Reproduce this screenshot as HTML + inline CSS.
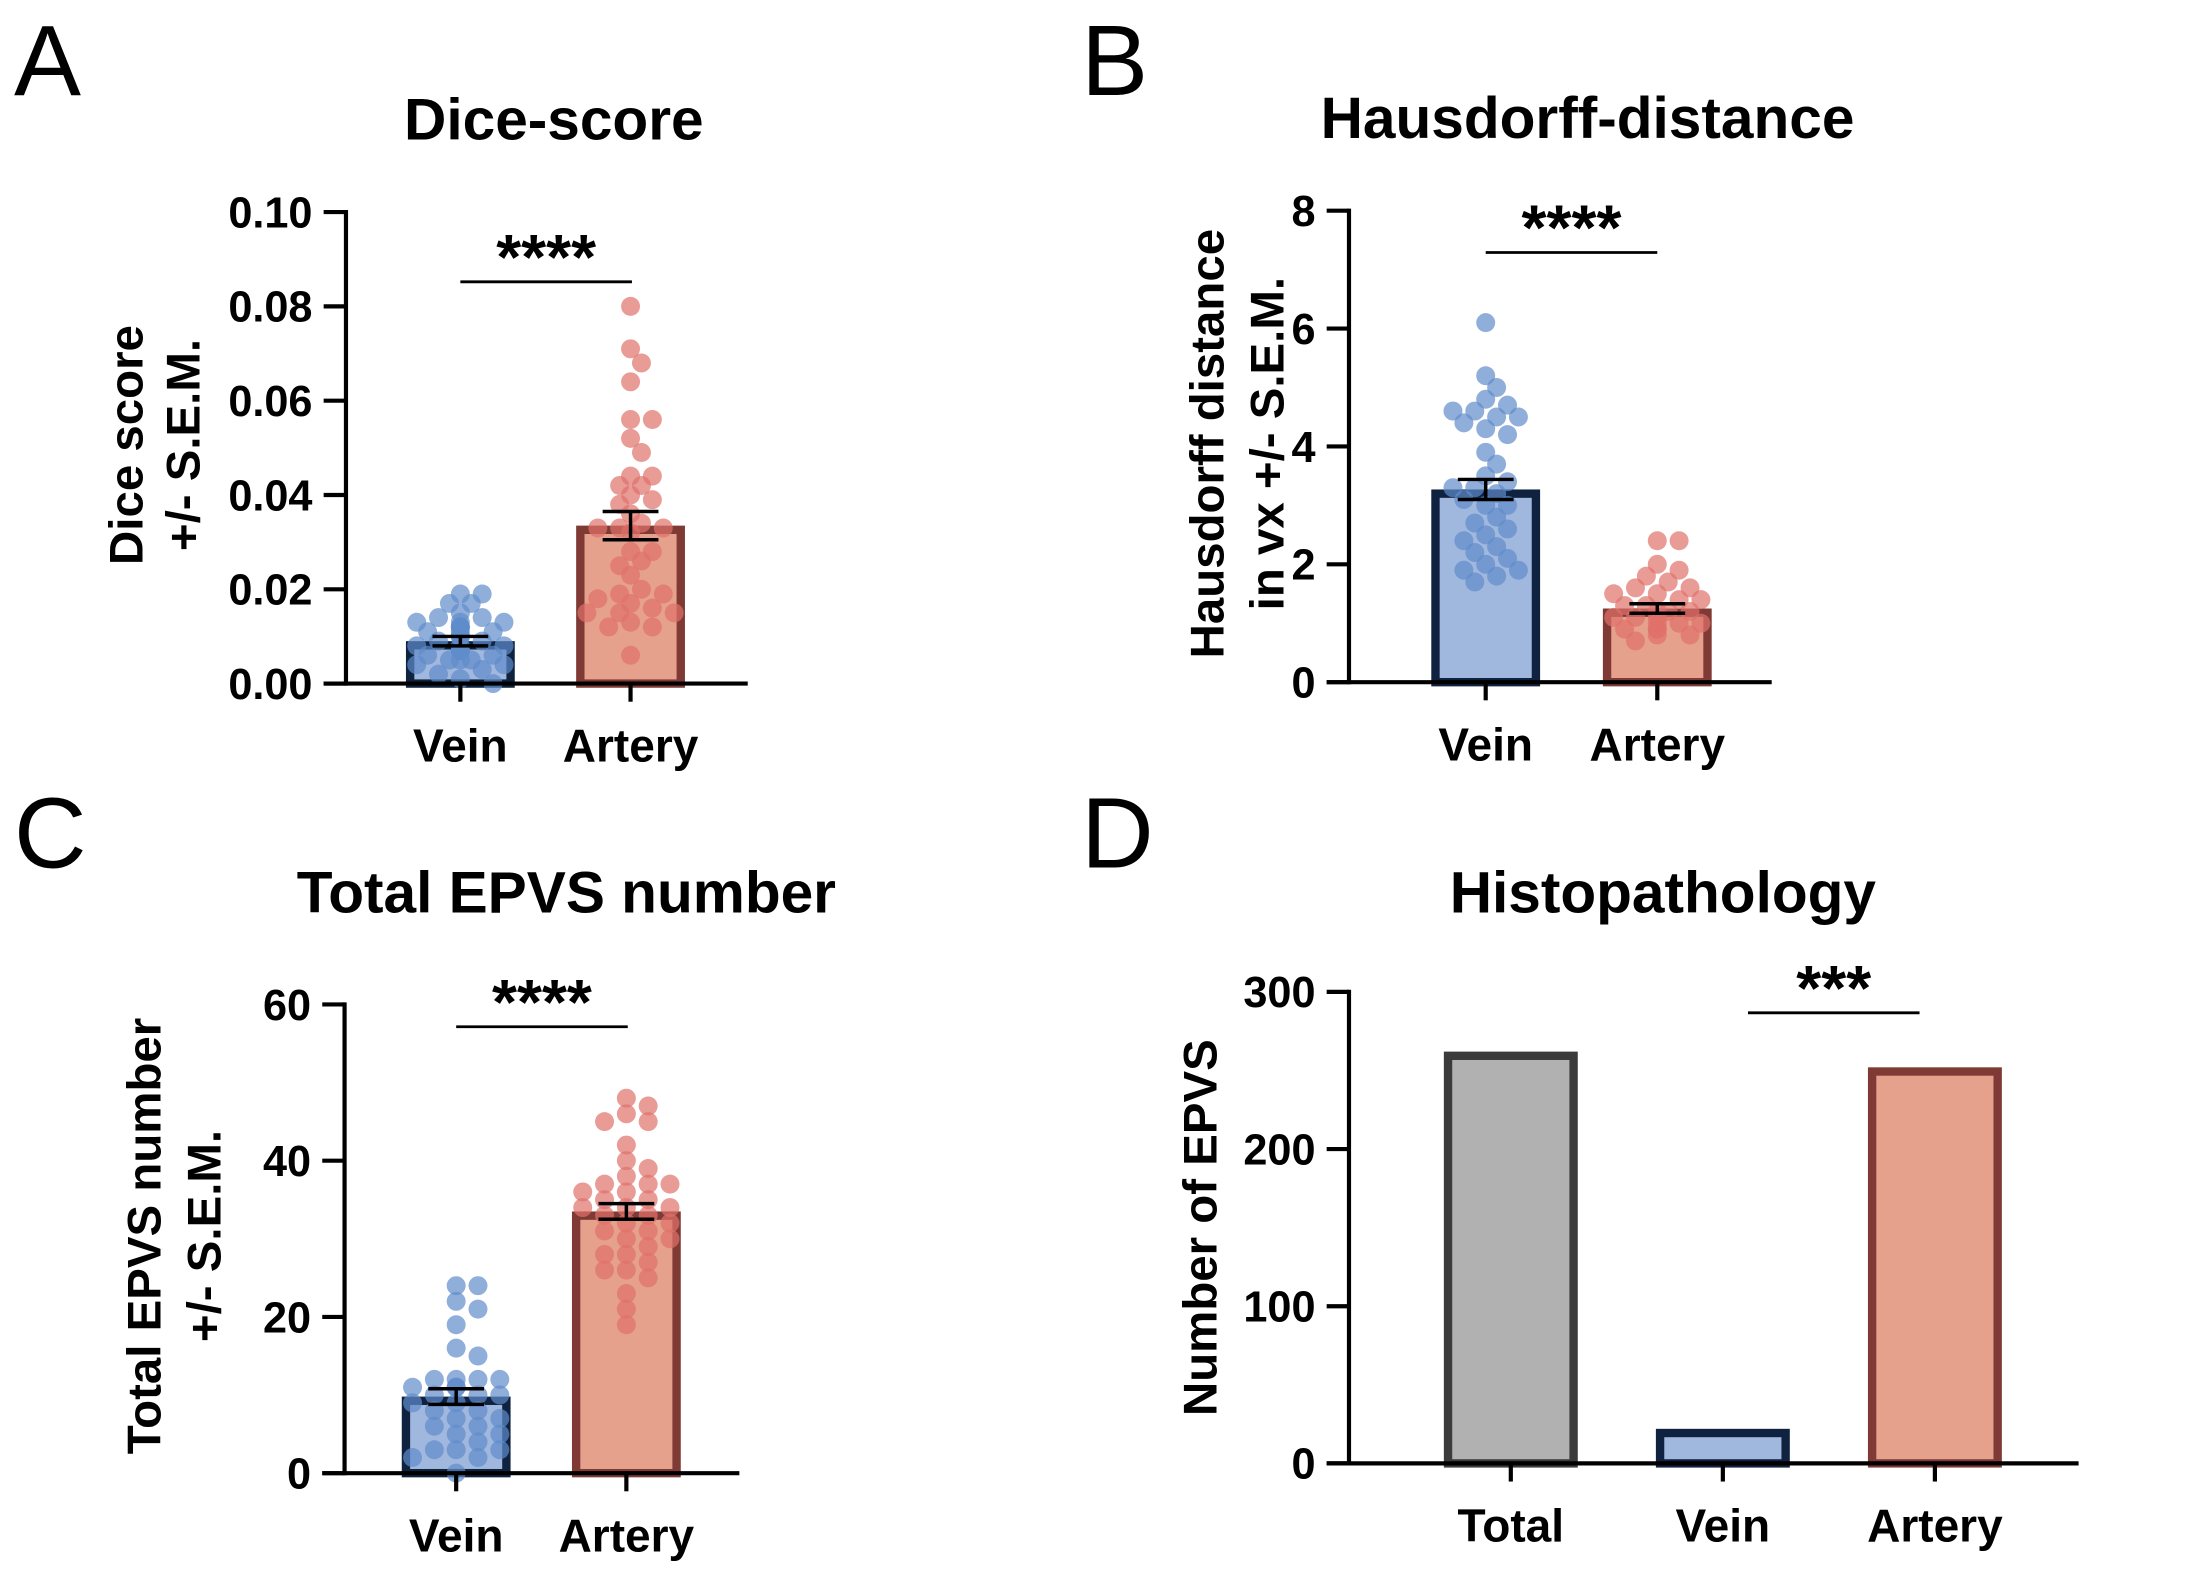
<!DOCTYPE html>
<html><head><meta charset="utf-8"><style>
html,body{margin:0;padding:0;background:#fff;}
svg{display:block;font-family:"Liberation Sans",Arial,sans-serif;}
</style></head><body>
<svg id="fig" width="2186" height="1588" viewBox="0 0 1567 1138.3" xmlns="http://www.w3.org/2000/svg"></svg>
<script>
// ---- data ----
const groupsAB = ["Vein","Artery"];
const groupsD = ["Total","Vein","Artery"];
const diceVein = [0.019,0.019,0.017,0.017,0.015,0.014,0.014,0.013,0.013,0.013,0.012,0.012,0.012,0.012,0.011,0.011,0.011,0.010,0.010,0.010,0.009,0.009,0.008,0.008,0.008,0.007,0.007,0.007,0.006,0.006,0.005,0.005,0.005,0.004,0.004,0.003,0.002,0.001,0.0];
const diceArtery = [0.080,0.071,0.068,0.064,0.056,0.056,0.052,0.049,0.044,0.044,0.042,0.042,0.040,0.039,0.038,0.036,0.034,0.033,0.033,0.033,0.032,0.028,0.028,0.026,0.025,0.023,0.020,0.019,0.019,0.018,0.017,0.016,0.015,0.015,0.015,0.013,0.012,0.012,0.006];
const diceMeans = [0.009,0.0335];
const diceSem = [0.001,0.003];
const diceTicks = ["0.00","0.02","0.04","0.06","0.08","0.10"];
const hdVein = [6.1,5.2,5.0,4.8,4.7,4.6,4.6,4.5,4.5,4.4,4.3,4.2,3.9,3.7,3.5,3.4,3.3,3.3,3.2,3.1,3.0,3.0,2.8,2.7,2.6,2.5,2.4,2.3,2.2,2.1,2.0,1.9,1.9,1.8,1.7];
const hdArtery = [2.4,2.4,2.0,1.9,1.8,1.7,1.6,1.6,1.5,1.5,1.4,1.4,1.3,1.3,1.2,1.2,1.2,1.1,1.1,1.1,1.0,1.0,1.0,0.9,0.9,0.9,0.8,0.8,0.7];
const hdMeans = [3.27,1.25];
const hdSem = [0.17,0.08];
const hdTicks = ["0","2","4","6","8"];
const epvsVein = [24,24,22,21,19,16,15,12,12,12,12,11,11,11,10,10,10,9,9,8,8,7,7,6,6,5,5,4,3,3,3,2,2,0];
const epvsArtery = [48,47,46,45,45,42,40,39,38,37,37,37,36,36,35,35,34,34,34,33,33,32,32,31,31,30,30,29,28,28,27,26,26,25,23,21,19];
const epvsMeans = [9.8,33.5];
const epvsSem = [1.0,1.0];
const epvsTicks = ["0","20","40","60"];
const histoValues = [262,22,252];
const histoTicks = ["0","100","200","300"];

const NS="http://www.w3.org/2000/svg";
const svg=document.getElementById('fig');
function mk(tag,attrs,parent){const e=document.createElementNS(NS,tag);for(const k in attrs)e.setAttribute(k,attrs[k]);(parent||svg).appendChild(e);return e;}
function txt(s,attrs,parent){const e=mk('text',attrs,parent);e.textContent=s;return e;}

function panel(p){
  const g=mk('g',{});
  
  
  const ymax=parseFloat(p.ticks[p.ticks.length-1]);
  const Y=v=>p.y0-(v/ymax)*(p.y0-p.yTop);
  const l=txt(p.letter,{x:p.letterX,y:p.letterY,'font-size':72,'fill':'#000'},g);
  
  
  const t=txt(p.title,{x:p.titleX,y:p.titleY,'font-size':42,'font-weight':'bold','text-anchor':'middle'},g);
  
  
  p.ylab.forEach((s,i)=>{
    const x=p.ylabX[i];
    const e=txt(s,{x:0,y:0,'font-size':34,'font-weight':'bold','text-anchor':'middle',transform:`translate(${x},${p.ylabY}) rotate(-90)`},g);
    
    
  });
  p.cats.forEach((c,i)=>{
    const cx=p.xs[i];
    const v=p.means[i];
    const st=p.styles[i];
    const hw=p.bw/2;
    const r=mk('rect',{x:cx-hw+3,y:Y(v)+3,width:p.bw-6,height:Math.max(0,p.y0-Y(v)-3),fill:st[0],stroke:st[1],'stroke-width':6},g);
    
    
    if(p.points){
      const pts=p.points[i];const rad=6.8;const placed=[];
      pts.forEach(val=>{
        const py=Y(val);let off=0;
        for(let k=0;k<30;k++){
          const cand=(k%2?1:-1)*Math.ceil(k/2)*rad*1.15;
          if(Math.abs(cand)>hw-2)continue;
          if(placed.every(q=>Math.hypot(q[0]-cand,q[1]-py)>=rad*1.5)){off=cand;break;}
        }
        placed.push([off,py]);
        const d=mk('circle',{cx:cx+off,cy:py,r:rad,fill:st[2],'fill-opacity':0.7},g);
        
        
      });
    }
    if(p.sem){
      const s=p.sem[i];
      const eg=mk('g',{stroke:'#000','stroke-width':2.5},g);
      
      
      mk('line',{x1:cx,x2:cx,y1:Y(v+s),y2:Y(v-s)},eg);
      mk('line',{x1:cx-20,x2:cx+20,y1:Y(v+s),y2:Y(v+s)},eg);
      mk('line',{x1:cx-20,x2:cx+20,y1:Y(v-s),y2:Y(v-s)},eg);
    }
    const tk=mk('line',{x1:cx,x2:cx,y1:p.y0,y2:p.y0+13,stroke:'#000','stroke-width':3},g);
    
    
    const lb=txt(c,{x:cx,y:p.y0+56,'font-size':33,'font-weight':'bold','text-anchor':'middle'},g);
    
    
  });
  const ya=mk('line',{x1:p.ax,x2:p.ax,y1:p.yTop-1.5,y2:p.y0+1.5,stroke:'#000','stroke-width':3},g);
  
  
  const xa=mk('line',{x1:p.ax-16,x2:p.xEnd,y1:p.y0,y2:p.y0,stroke:'#000','stroke-width':3},g);
  
  
  p.ticks.forEach(tl=>{
    const y=Y(parseFloat(tl));
    const tl1=mk('line',{x1:p.ax-16,x2:p.ax,y1:y,y2:y,stroke:'#000','stroke-width':3},g);
    
    
    const e=txt(tl,{x:p.ax-24,y:y+11,'font-size':31,'font-weight':'bold','text-anchor':'end'},g);
    
    
  });
  const sl=mk('line',{x1:p.sig[0],x2:p.sig[1],y1:p.sigY,y2:p.sigY,stroke:'#000','stroke-width':2},g);
  
  
  const sx=txt(p.stars,{x:(p.sig[0]+p.sig[1])/2,y:p.sigY-2,'font-size':46,'font-weight':'bold','text-anchor':'middle'},g);
  
  
}

const blue=['#a1b8de','#0f2240','#5f8ccb'], red=['#e6a18c','#7f3a35','#e0706a'], grey=['#b1b1b1','#3b3b3b','#888'];

panel({name:'panel-a-dice-score',letter:'A',letterX:10,letterY:68,title:'Dice-score',titleX:397,titleY:100,
  ylab:['Dice score','+/- S.E.M.'],ylabX:[102,143],ylabY:319,
  cats:groupsAB,xs:[330,452],bw:78,means:diceMeans,sem:diceSem,points:[diceVein,diceArtery],styles:[blue,red],
  ticks:diceTicks,ax:248,yTop:152,y0:490,xEnd:536,sig:[330,453],sigY:202,stars:'****'});
panel({name:'panel-b-hausdorff',letter:'B',letterX:775,letterY:68,title:'Hausdorff-distance',titleX:1138,titleY:99,
  ylab:['Hausdorff distance','in vx +/- S.E.M.'],ylabX:[877,920],ylabY:318,
  cats:groupsAB,xs:[1065,1188],bw:78,means:hdMeans,sem:hdSem,points:[hdVein,hdArtery],styles:[blue,red],
  ticks:hdTicks,ax:967,yTop:151,y0:489,xEnd:1270,sig:[1065,1188],sigY:181,stars:'****'});
panel({name:'panel-c-total-epvs',letter:'C',letterX:10,letterY:622,title:'Total EPVS number',titleX:406,titleY:654,
  ylab:['Total EPVS number','+/- S.E.M.'],ylabX:[115,158],ylabY:886,
  cats:groupsAB,xs:[327,449],bw:78,means:epvsMeans,sem:epvsSem,points:[epvsVein,epvsArtery],styles:[blue,red],
  ticks:epvsTicks,ax:247,yTop:720,y0:1056,xEnd:530,sig:[327,450],sigY:736,stars:'****'});
panel({name:'panel-d-histopathology',letter:'D',letterX:775,letterY:622,title:'Histopathology',titleX:1192,titleY:654,
  ylab:['Number of EPVS'],ylabX:[872],ylabY:880,
  cats:groupsD,xs:[1083,1235,1387],bw:96,means:histoValues,styles:[grey,blue,red],
  ticks:histoTicks,ax:967,yTop:711,y0:1049,xEnd:1490,sig:[1253,1376],sigY:726,stars:'***'});
</script>
</body></html>
